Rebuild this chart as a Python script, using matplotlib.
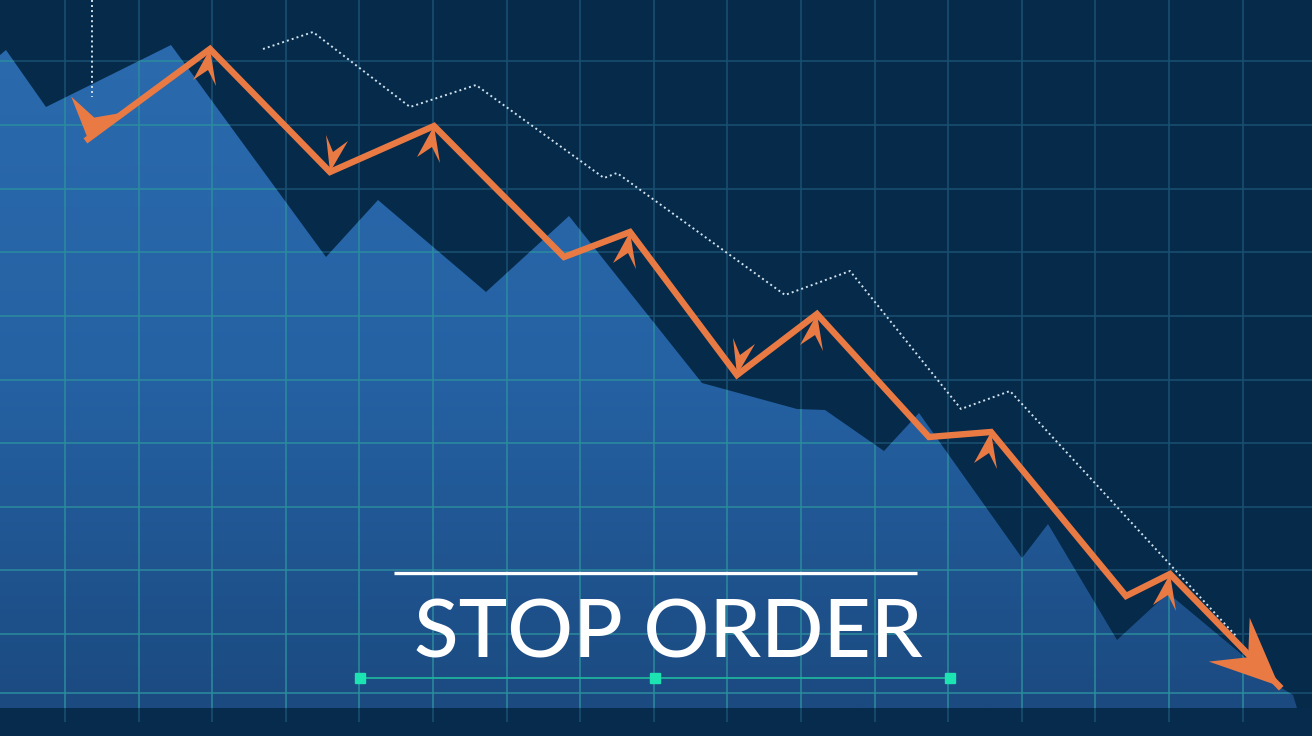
import matplotlib.pyplot as plt
import numpy as np
from matplotlib.patches import Polygon, Rectangle
from matplotlib.colors import LinearSegmentedColormap

# price area (light blue mountain), in picture units (x right, y down)
area_x = [0, 6, 46, 171, 326, 378, 486, 569, 702, 797, 825, 884, 919, 1022, 1048, 1117, 1168, 1240, 1280, 1293, 1297]
area_y = [55, 50, 107, 45, 257, 200, 292, 216, 383, 409, 410, 451, 413, 558, 524, 640, 593, 653, 687, 695, 708]

# orange stop path
path_x = [88, 210, 330, 434, 564, 630, 737, 817, 929, 991, 1126, 1170, 1279]
path_y = [139, 49, 172, 126, 257, 232, 375, 314, 437, 432, 596, 574, 686]
# small arrow barbs on the turning points
barb_idx = [1, 2, 3, 5, 6, 7, 9, 11]
barb_dir = ['up', 'down', 'up', 'up', 'down', 'up', 'up', 'up']

# dotted guide lines
dot1_x = [92, 92]
dot1_y = [0, 97]
dot2_x = [263, 313, 410, 476, 604, 617, 785, 850, 928, 961, 1010, 1236]
dot2_y = [49, 32, 107, 85, 178, 173, 295, 271, 368, 409, 391, 636]

title = "STOP ORDER"
marker_x = [360, 655, 950]

W, H = 1312, 736
bg = '#062a4a'
orange = '#ea7a44'

fig = plt.figure(figsize=(13.12, 7.36), dpi=100)
fig.patch.set_facecolor(bg)
ax = fig.add_axes([0, 0, 1, 1])
ax.set_facecolor(bg)
ax.set_xlim(0, W)
ax.set_ylim(H, 0)
ax.axis('off')

# bottom band
ax.add_patch(Rectangle((0, 708), W, H - 708, color='#072b4d', zorder=0.5))

# grid on dark
vx = np.arange(65, W, 73.6)
hy = [-1, 61, 125, 189, 252, 316, 380, 443, 507, 570, 634, 693]
ax.vlines(vx, 0, 722, color='#1a5072', lw=1.1, zorder=1)
ax.hlines(hy, 0, W, color='#1a5072', lw=1.1, zorder=1)

# blue area with gradient
pts = list(zip(area_x, area_y)) + [(area_x[-1], 708), (0, 708)]
poly = Polygon(pts, closed=True, facecolor='none', edgecolor='none')
ax.add_patch(poly)
cmap = LinearSegmentedColormap.from_list('b', ['#2a6aad', '#2562a4', '#1b4a80'])
grad = np.linspace(0, 1, 256).reshape(-1, 1)
im = ax.imshow(grad, cmap=cmap, extent=[0, W, 708, 40], aspect='auto', zorder=2)
im.set_clip_path(poly)
ax.set_xlim(0, W)
ax.set_ylim(H, 0)

# grid over blue (teal)
lc1 = ax.vlines(vx, 0, 722, color='#2b8c9e', lw=1.1, zorder=3)
lc2 = ax.hlines(hy, 0, W, color='#2b8c9e', lw=1.1, zorder=3)
lc1.set_clip_path(poly)
lc2.set_clip_path(poly)

# dotted lines
ax.plot(dot1_x, dot1_y, color='#d2e2ee', lw=1.4, ls=(0, (1, 1.6)), zorder=4)
ax.plot(dot2_x, dot2_y, color='#d2e2ee', lw=1.4, ls=(0, (1, 1.6)), zorder=4)

# orange path
ax.plot(path_x, path_y, color=orange, lw=4.6, solid_joinstyle='miter', zorder=5)

def head(tip, u, L, w, notch=0.62):
    u = np.array(u, float)
    u = u / np.hypot(*u)
    n = np.array([-u[1], u[0]])
    t = np.array(tip, float)
    b1 = t - L * u + w * n
    b2 = t - L * u - w * n
    m = t - notch * L * u
    ax.add_patch(Polygon([t, b1, m, b2], closed=True, color=orange, lw=0, zorder=6))

barb_shape = {'up': [(-17, 31), (-2, 21), (6, 37)],
              'down': [(-4, -37), (3, -20), (18, -31)]}
for i, d in zip(barb_idx, barb_dir):
    tx, ty = path_x[i], path_y[i]
    s = barb_shape[d]
    ax.add_patch(Polygon([(tx, ty)] + [(tx + a, ty + b) for a, b in s],
                         closed=True, color=orange, lw=0, zorder=6))

# start and end arrowheads
head((path_x[0], path_y[0]), (-0.28, 0.96), 36, 28)
head((path_x[-1], path_y[-1]), (0.73, 0.68), 68, 30)

# title block
ax.plot([394, 917], [573, 573], color='white', lw=2.4, solid_capstyle='butt', zorder=7)
ax.text(668, 657, title, color='white', fontsize=59, family='Lato',
        fontweight='medium', ha='center', va='baseline', zorder=7)
ax.plot([marker_x[0], marker_x[-1]], [678, 678], color='#20b39c', lw=1.3, zorder=7)
ax.plot(marker_x, [678] * len(marker_x), ls='none', marker='s', ms=7,
        color='#1de3b2', zorder=8)

fig.savefig('out.png', dpi=100, facecolor=bg)
